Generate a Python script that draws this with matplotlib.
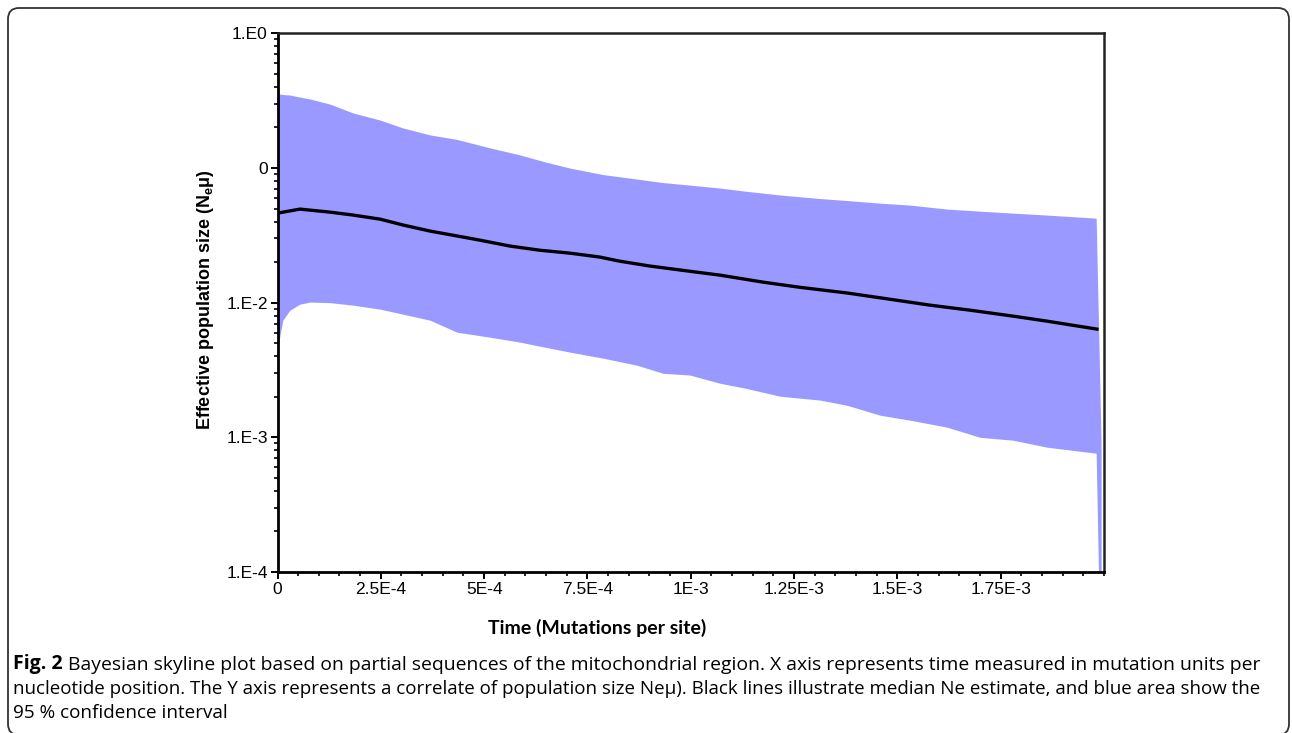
import matplotlib
matplotlib.use("Agg")
import matplotlib.pyplot as plt
import matplotlib.ticker as mticker
from matplotlib.patches import FancyBboxPatch
from matplotlib.transforms import IdentityTransform

# ---------------- data ----------------
band_time = [0, 6e-6, 1.3e-5, 3.0e-5, 5.4e-5, 7.9e-5, 1.27e-4, 1.83e-4, 2.48e-4,
             3.04e-4, 3.69e-4, 4.34e-4, 5.14e-4, 5.87e-4, 6.47e-4, 7.08e-4,
             7.88e-4, 8.70e-4, 9.33e-4, 9.98e-4, 1.071e-3, 1.131e-3, 1.216e-3,
             1.313e-3, 1.378e-3, 1.458e-3, 1.531e-3, 1.620e-3, 1.700e-3,
             1.780e-3, 1.862e-3, 1.981e-3, 1.993e-3]
upper_95 = [0.354, 0.354, 0.351, 0.348, 0.336, 0.325, 0.298, 0.256, 0.227,
            0.198, 0.176, 0.163, 0.141, 0.125, 0.111, 0.0998, 0.0893, 0.0827,
            0.0779, 0.0746, 0.0709, 0.0673, 0.0630, 0.0593, 0.0573, 0.0548,
            0.0530, 0.0495, 0.0478, 0.0462, 0.0447, 0.0424, 0.0009]
lower_95 = [0.00422, 0.00574, 0.00741, 0.00879, 0.00975, 0.0101, 0.0100,
            0.00958, 0.00895, 0.00821, 0.00741, 0.00604, 0.00554, 0.00509,
            0.00467, 0.00429, 0.00387, 0.00343, 0.00299, 0.00290, 0.00252,
            0.00232, 0.00202, 0.00189, 0.00173, 0.00146, 0.00134, 0.00119,
            0.00100, 0.000952, 0.000845, 0.000762, 1e-5]

median_time = [0, 5.4e-5, 1.27e-4, 1.83e-4, 2.48e-4, 3.04e-4, 3.69e-4, 4.24e-4,
               4.90e-4, 5.63e-4, 6.35e-4, 7.08e-4, 7.80e-4, 8.29e-4, 9.01e-4,
               9.98e-4, 1.071e-3, 1.175e-3, 1.264e-3, 1.378e-3, 1.482e-3,
               1.579e-3, 1.676e-3, 1.780e-3, 1.862e-3, 1.983e-3]
median_ne = [0.0462, 0.0495, 0.0470, 0.0447, 0.0417, 0.0377, 0.0340, 0.0317,
             0.0291, 0.0263, 0.0245, 0.0233, 0.0218, 0.0203, 0.0187, 0.0171,
             0.0160, 0.0142, 0.0130, 0.0118, 0.0106, 0.00958, 0.00879,
             0.00794, 0.00729, 0.00636]

x_ticks = [0, 2.5e-4, 5e-4, 7.5e-4, 1e-3, 1.25e-3, 1.5e-3, 1.75e-3]
x_tick_labels = ["0", "2.5E-4", "5E-4", "7.5E-4", "1E-3", "1.25E-3", "1.5E-3", "1.75E-3"]
y_ticks = [1, 0.1, 0.01, 0.001, 0.0001]
y_tick_labels = ["1.E0", "0", "1.E-2", "1.E-3", "1.E-4"]

x_label = "Time (Mutations per site)"
y_label = r"Effective population size (N$_\mathbf{e}$μ)"
caption_bold = "Fig. 2"
caption_lines = [
    "Bayesian skyline plot based on partial sequences of the mitochondrial region. X axis represents time measured in mutation units per",
    "nucleotide position. The Y axis represents a correlate of population size Neμ). Black lines illustrate median Ne estimate, and blue area show the",
    "95 % confidence interval",
]

# ---------------- figure ----------------
W, H = 1292, 733
DPI = 100
plt.rcParams["font.family"] = ["Liberation Sans", "DejaVu Sans"]
plt.rcParams["mathtext.fontset"] = "custom"
plt.rcParams["mathtext.rm"] = "Liberation Sans:bold"
plt.rcParams["mathtext.bf"] = "Liberation Sans:bold"
plt.rcParams["mathtext.it"] = "Liberation Sans:bold"

fig = plt.figure(figsize=(W / DPI, H / DPI), dpi=DPI)
fig.patch.set_facecolor("white")

def fx(px):
    return px / W

def fy(py):
    return 1 - py / H

ax_left, ax_right, ax_top, ax_bottom = 277.5, 1104, 33.3, 572
ax = fig.add_axes([fx(ax_left), fy(ax_bottom), fx(ax_right - ax_left), (ax_bottom - ax_top) / H])

ax.fill_between(band_time, lower_95, upper_95, color="#9999ff", linewidth=0, zorder=1)
ax.plot(median_time, median_ne, color="black", linewidth=2.4, zorder=2)

ax.set_yscale("log")
ax.set_xlim(0, 2.0e-3)
ax.set_ylim(1e-4, 1)

ax.set_xticks(x_ticks)
ax.set_xticklabels(x_tick_labels)
ax.xaxis.set_minor_locator(mticker.MultipleLocator(5e-5))
ax.set_yticks(y_ticks)
ax.set_yticklabels(y_tick_labels)
ax.yaxis.set_minor_locator(mticker.LogLocator(base=10, subs=range(2, 10), numticks=20))
ax.yaxis.set_minor_formatter(mticker.NullFormatter())

ax.tick_params(axis="both", which="major", direction="out", length=5, width=1.4,
               labelsize=12.5, pad=2, colors="black")
ax.tick_params(axis="both", which="minor", direction="out", length=3, width=1.2)
ax.tick_params(axis="x", which="major", pad=2)

for side in ["left", "bottom"]:
    ax.spines[side].set_linewidth(2.0)
    ax.spines[side].set_color("black")
for side in ["top", "right"]:
    ax.spines[side].set_linewidth(1.8)
    ax.spines[side].set_color("#222222")

# axis labels
fig.text(fx(205), fy(300), y_label, rotation=90, ha="center", va="center",
         fontsize=13, fontweight="bold", family=["Liberation Sans", "DejaVu Sans"])
fig.text(fx(597), fy(628), x_label, ha="center", va="center",
         fontsize=14, fontweight="bold", family=["Lato", "DejaVu Sans"])

# caption
cap_font = ["Open Sans", "DejaVu Sans"]
cap_size = 14
baselines = [669.5, 693.5, 717.5]
right_edges = [1270, 1266, 229]   # where each caption line ends in the reference
renderer = fig.canvas.get_renderer()
tb = fig.text(fx(13), fy(baselines[0]), caption_bold, ha="left", va="baseline",
              fontsize=cap_size, fontweight="bold", family=cap_font)
bb = tb.get_window_extent(renderer=renderer)
starts = [bb.x1 + 5, 13, 13]
for line, b, x0, x1 in zip(caption_lines, baselines, starts, right_edges):
    t = fig.text(x0 / W, fy(b), line, ha="left", va="baseline",
                 fontsize=cap_size, family=cap_font)
    w = t.get_window_extent(renderer=renderer).width
    t.set_fontsize(cap_size * (x1 - x0) / w)

# rounded frame around the figure (pixel coordinates, origin bottom-left)
frame = FancyBboxPatch((8, -2), 1289 - 8, (H - 8) + 2,
                       boxstyle="round,pad=0,rounding_size=11",
                       transform=IdentityTransform(), fill=False,
                       edgecolor="#333333", linewidth=1.3, clip_on=False)
fig.patches.append(frame)

fig.savefig("out.png", dpi=DPI, facecolor="white")
